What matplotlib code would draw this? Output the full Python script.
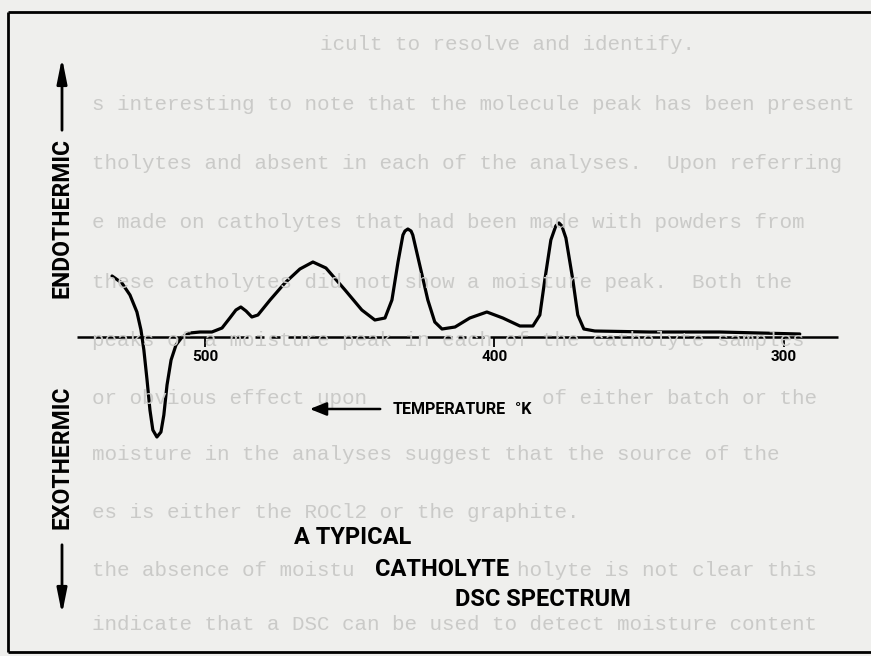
import matplotlib
matplotlib.use("Agg")
import matplotlib.pyplot as plt
from matplotlib.patches import FancyArrowPatch

# DSC trace: temperature (K) and heat flow (arb. units, endo up)
temps = [532.1, 528.7, 525.9, 523.5, 522.1, 521.1, 520.0, 519.0, 518.0, 516.6,
         515.2, 514.2, 513.1, 511.7, 510.0, 507.9, 505.2, 501.7, 497.6, 494.1,
         491.4, 489.3, 487.6, 485.8, 483.8, 481.7, 477.5, 472.4, 467.2, 462.7,
         458.2, 451.6, 445.8, 441.3, 437.8, 435.4, 433.3, 431.6, 430.9, 429.9,
         428.8, 428.2, 425.8, 423.0, 420.6, 418.1, 413.6, 408.5, 402.6, 397.1,
         391.2, 386.7, 384.3, 382.6, 380.5, 378.8, 377.7, 376.7, 375.3, 372.9,
         371.2, 369.1, 365.3, 346.3, 322.1, 294.5]
heat_flow = [6.1, 5.4, 4.2, 2.5, 0.7, -1.3, -4.3, -7.3, -9.3, -10.0,
             -9.5, -7.8, -4.8, -2.3, -0.8, 0.0, 0.4, 0.5, 0.5, 0.9,
             1.9, 2.7, 3.0, 2.6, 2.0, 2.2, 3.7, 5.4, 6.8, 7.5,
             6.9, 4.7, 2.7, 1.7, 1.9, 3.7, 7.5, 10.2, 10.6, 10.8,
             10.6, 10.2, 7.2, 3.7, 1.5, 0.8, 1.0, 1.9, 2.5, 1.9,
             1.1, 1.1, 2.2, 5.7, 9.7, 11.1, 11.4, 11.1, 9.9, 5.7,
             2.2, 0.8, 0.6, 0.5, 0.5, 0.3]

# zero line pieces (the drawn baseline is broken in places)
baseline_pieces = [(544.2, 485.1), (482.7, 479.6), (477.2, 474.1), (471.3, 425.7),
                   (423.3, 414.7), (412.6, 409.8), (407.8, 403.6), (401.6, 281.3)]
tick_temps = [500, 400, 300]
tick_labels = ["500", "400", "300"]

caption = ["A TYPICAL", "CATHOLYTE", "DSC SPECTRUM"]

# faint typewritten text showing through from the page
ghost_lines = [
    "icult to resolve and identify.",
    "s interesting to note that the molecule peak has been present",
    "tholytes and absent in each of the analyses.  Upon referring",
    "e made on catholytes that had been made with powders from",
    "these catholytes did not show a moisture peak.  Both the",
    "peaks of a moisture peak in each of the catholyte samples",
    "or obvious effect upon the moisture of either batch or the",
    "moisture in the analyses suggest that the source of the",
    "es is either the ROCl2 or the graphite.",
    "the absence of moisture in the catholyte is not clear this",
    "indicate that a DSC can be used to detect moisture content",
]
# parts of a ghost line hidden under the drawing's own lettering
ghost_hidden = {6: [(0, 22), (36, None)], 9: [(0, 21), (34, None)]}

plt.rcParams['font.family'] = ['Roboto', 'DejaVu Sans']

W, H = 871, 656
paper = '#efefed'
fig = plt.figure(figsize=(W / 100, H / 100), dpi=100, facecolor=paper)
ax = fig.add_axes([0, 0, 1, 1])
ax.set_facecolor(paper)
ax.set_xlim(570.8, 269.9)
ax.set_ylim(-31.9, 33.7)
ax.axis('off')


def fp(x, y):
    # pixel position on the page -> figure fraction
    return x / W, 1 - y / H


ghost_size = 15
pitch = 0.6 * ghost_size * 100 / 72
ghost_y = [45, 104, 163, 222, 282, 340, 398, 455, 513, 570, 625]
for i, txt in enumerate(ghost_lines):
    x0 = 320 if i == 0 else 92
    for a, b in ghost_hidden.get(i, [(0, None)]):
        fx, fy = fp(x0 + a * pitch, ghost_y[i])
        fig.text(fx, fy, txt[a:b], family='Liberation Mono', fontsize=ghost_size,
                 color='#cacac8', ha='left', va='center', zorder=0)

# frame around the figure
frame = dict(color='black', lw=2.0, solid_capstyle='butt')
fig.add_artist(plt.Line2D([8 / W, 1], [1 - 12 / H] * 2, **frame))
fig.add_artist(plt.Line2D([8 / W] * 2, [1 - 12 / H, 1 - 652 / H], **frame))
fig.add_artist(plt.Line2D([8 / W, 1], [1 - 652 / H] * 2, **frame))

# baseline and ticks
for t0, t1 in baseline_pieces:
    ax.plot([t0, t1], [0, 0], color='black', lw=1.8, solid_capstyle='butt')
ax.vlines(tick_temps, -1.0, 0, color='black', lw=1.3)
for t, lab in zip(tick_temps, tick_labels):
    ax.text(t, -2.0, lab, ha='center', va='center', fontsize=11, fontweight='bold')

# the trace
ax.plot(temps, heat_flow, color='black', lw=2.3, solid_joinstyle='round',
        solid_capstyle='round')

# side labels with arrows
bold = dict(fontweight='bold', color='black')
fx, fy = fp(62, 218)
fig.text(fx, fy, 'ENDOTHERMIC', rotation=90, ha='center', va='center', fontsize=16.5, **bold)
fx, fy = fp(62, 457)
fig.text(fx, fy, 'EXOTHERMIC', rotation=90, ha='center', va='center', fontsize=16.5, **bold)
side_arrow = dict(arrowstyle='-|>,head_length=1.5,head_width=0.3', mutation_scale=10,
                  color='black', lw=2.0, transform=fig.transFigure)
fig.add_artist(FancyArrowPatch(fp(62, 133), fp(62, 55), **side_arrow))
fig.add_artist(FancyArrowPatch(fp(62, 542), fp(62, 617), **side_arrow))

# temperature direction
fig.add_artist(FancyArrowPatch(fp(383, 409), fp(307, 409), transform=fig.transFigure,
                               arrowstyle='-|>,head_length=1.0,head_width=0.4',
                               mutation_scale=10, color='black', lw=1.8))
fx, fy = fp(393, 409)
fig.text(fx, fy, 'TEMPERATURE', ha='left', va='center', fontsize=11.5, **bold)
fx, fy = fp(515, 409)
fig.text(fx, fy, '°K', ha='left', va='center', fontsize=11.5, **bold)

# caption, stepped to the right
for txt, (x, y) in zip(caption, [(294, 538), (375, 569), (455, 600)]):
    fx, fy = fp(x, y)
    fig.text(fx, fy, txt, ha='left', va='center', fontsize=17, **bold)

fig.savefig('out.png', dpi=100, facecolor=paper)
